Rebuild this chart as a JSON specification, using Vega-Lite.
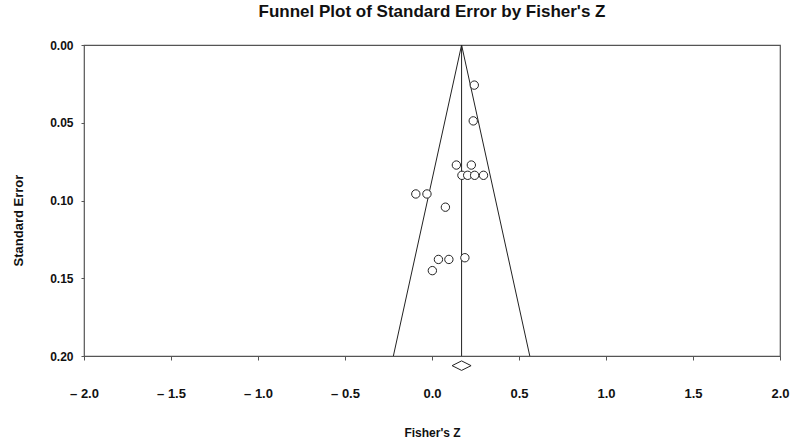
{
  "$schema": "https://vega.github.io/schema/vega-lite/v6.json",
  "autosize": "none",
  "width": 696,
  "height": 311,
  "padding": {"left": 84, "top": 45, "right": 17, "bottom": 88},
  "background": "white",
  "config": {
    "font": "Liberation Sans",
    "view": {"stroke": "#555555", "strokeWidth": 1.2},
    "axis": {"domain": false, "grid": false}
  },
  "title": {
    "text": "Funnel Plot of Standard Error by Fisher's Z",
    "fontSize": 17,
    "fontWeight": "bold",
    "color": "#111111",
    "anchor": "middle",
    "offset": 18
  },
  "datasets": {
    "studies": [
      {"z": 0.243, "se": 0.0258},
      {"z": 0.237, "se": 0.0488},
      {"z": 0.140, "se": 0.0772},
      {"z": 0.226, "se": 0.0772},
      {"z": 0.172, "se": 0.0838},
      {"z": 0.205, "se": 0.0838},
      {"z": 0.245, "se": 0.0838},
      {"z": 0.296, "se": 0.0838},
      {"z": -0.093, "se": 0.0958},
      {"z": -0.029, "se": 0.0958},
      {"z": 0.077, "se": 0.1043},
      {"z": 0.037, "se": 0.1379},
      {"z": 0.097, "se": 0.1379},
      {"z": 0.189, "se": 0.1368},
      {"z": 0.002, "se": 0.1451}
    ],
    "funnel": [
      {"z": 0.17, "se": 0, "z2": -0.222, "se2": 0.2},
      {"z": 0.17, "se": 0, "z2": 0.562, "se2": 0.2},
      {"z": 0.17, "se": 0, "z2": 0.17, "se2": 0.2}
    ],
    "summary": [
      {"z": 0.17, "se": 0.2062}
    ]
  },
  "layer": [
    {
      "data": {"name": "funnel"},
      "mark": {"type": "rule", "color": "#222222", "strokeWidth": 1},
      "encoding": {
        "x": {
          "field": "z",
          "type": "quantitative",
          "scale": {"domain": [-2, 2], "nice": false, "zero": false},
          "axis": {
            "title": "Fisher's Z",
            "titleFontSize": 12,
            "titleFontWeight": "bold",
            "titleColor": "#111111",
            "titlePadding": 27,
            "values": [-2, -1.5, -1, -0.5, 0, 0.5, 1, 1.5, 2],
            "labelExpr": "datum.value < 0 ? '\u2013 ' + format(abs(datum.value), '.1f') : format(datum.value, '.1f')",
            "labelFontSize": 13,
            "labelFontWeight": "bold",
            "labelColor": "#111111",
            "labelPadding": 27,
            "labelFlush": false,
            "labelOverlap": false,
            "tickSize": 4,
            "tickColor": "#555555"
          }
        },
        "y": {
          "field": "se",
          "type": "quantitative",
          "scale": {"domain": [0, 0.2], "nice": false, "reverse": true},
          "axis": {
            "title": "Standard Error",
            "titleFontSize": 13,
            "titleFontWeight": "bold",
            "titleColor": "#111111",
            "titlePadding": 24,
            "titleY": 175,
            "values": [0, 0.05, 0.1, 0.15, 0.2],
            "format": ".2f",
            "labelFontSize": 12,
            "labelFontWeight": "bold",
            "labelColor": "#111111",
            "labelPadding": 8,
            "labelFlush": false,
            "labelOverlap": false,
            "tickSize": 3,
            "tickColor": "#555555"
          }
        },
        "x2": {"field": "z2"},
        "y2": {"field": "se2"}
      }
    },
    {
      "data": {"name": "studies"},
      "mark": {"type": "point", "shape": "circle", "filled": true, "fill": "white", "stroke": "#222222", "strokeWidth": 1, "size": 70, "opacity": 1},
      "encoding": {
        "x": {"field": "z", "type": "quantitative"},
        "y": {"field": "se", "type": "quantitative"}
      }
    },
    {
      "data": {"name": "summary"},
      "mark": {"type": "point", "shape": "M-1,0L0,-0.5L1,0L0,0.5Z", "filled": true, "fill": "white", "stroke": "#222222", "strokeWidth": 1, "size": 361, "opacity": 1},
      "encoding": {
        "x": {"field": "z", "type": "quantitative"},
        "y": {"field": "se", "type": "quantitative"}
      }
    }
  ]
}
